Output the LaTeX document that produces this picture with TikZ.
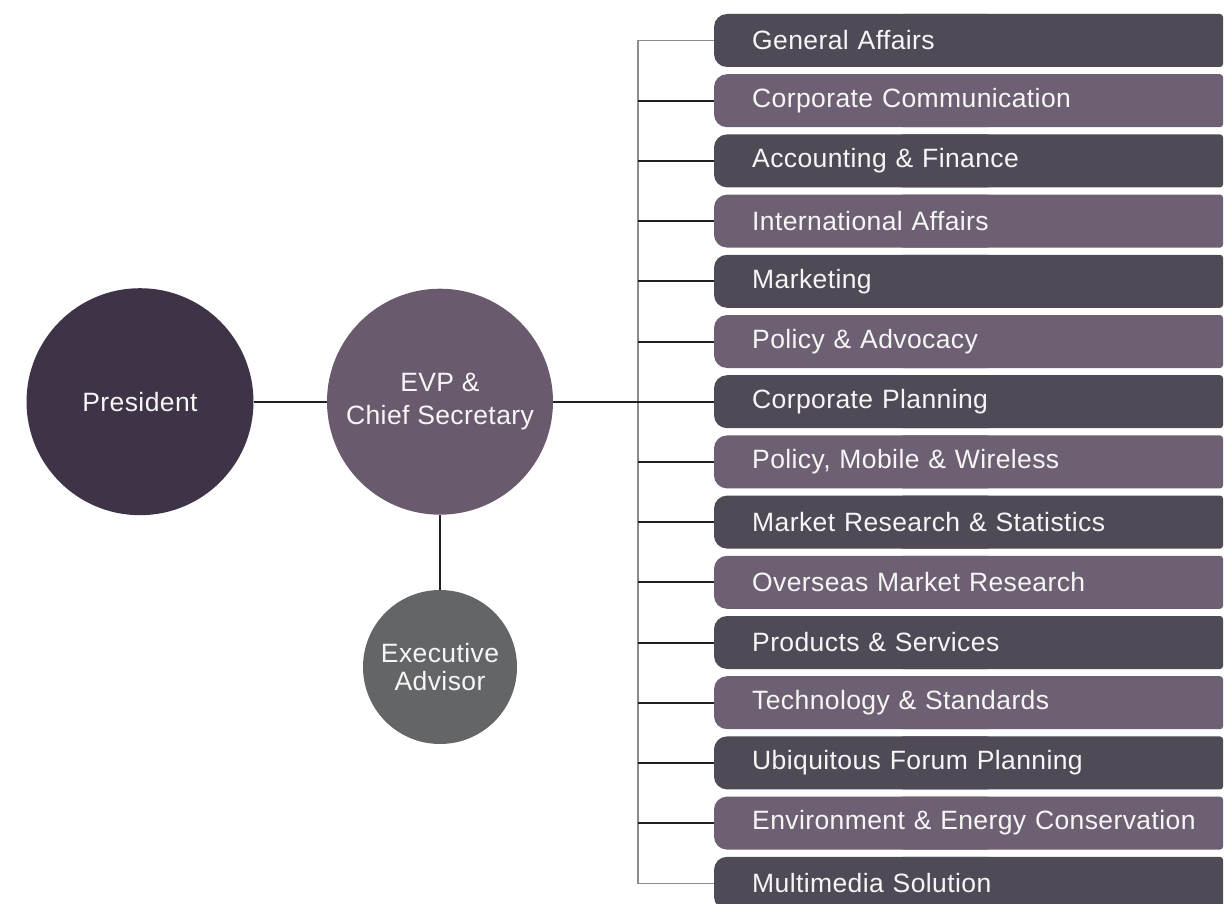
\documentclass[tikz,border=0pt]{standalone}
\usepackage{fontspec}
\setmainfont[LetterSpace=1.5]{Liberation Sans}
\definecolor{presc}{HTML}{3E3347}
\definecolor{evpc}{HTML}{6A5A6E}
\definecolor{advc}{HTML}{646567}
\definecolor{darkbox}{HTML}{504956}
\definecolor{lightbox}{HTML}{6E6073}
\definecolor{linec}{HTML}{231F20}
\definecolor{spinec}{HTML}{8C8C8C}
\definecolor{txtc}{HTML}{F6F6F6}
\tikzset{
  circ/.style={circle, inner sep=0pt, text=txtc, align=center, font=\fontsize{26.5}{33}\selectfont},
  depttext/.style={anchor=west, inner xsep=38pt, inner ysep=0pt, minimum height=53pt, text width=480pt, align=left, text=txtc, font=\fontsize{26.5}{30}\selectfont},
  branch/.style={draw=linec, line width=2pt},
  spine/.style={draw=spinec, line width=1.5pt},
}
\newcommand\dept[4]{%
  \fill[#3, rounded corners=13pt] (714,#2-26.5) rectangle (1000,#2+26.5);
  \fill[#3, rounded corners=3pt] (900,#2-26.5) rectangle (1223,#2+26.5);
  \node[depttext] (#1) at (714,#2) {#4};
}
\begin{document}
\begin{tikzpicture}[x=1pt,y=-1pt]
\useasboundingbox (0,0) rectangle (1224,904);
\fill[white] (0,0) rectangle (1224,904);
% spine
\coordinate (jt) at (638,40.5);
\coordinate (jb) at (638,883.3);
% departments
\dept{d1}{40.5}{darkbox}{General Affairs}
\dept{d2}{100.7}{lightbox}{Corporate Communication}
\dept{d3}{160.9}{darkbox}{Accounting \& Finance}
\dept{d4}{221.1}{lightbox}{International Affairs}
\dept{d5}{281.3}{darkbox}{Marketing}
\dept{d6}{341.5}{lightbox}{Policy \& Advocacy}
\dept{d7}{401.7}{darkbox}{Corporate Planning}
\dept{d8}{461.9}{lightbox}{Policy, Mobile \& Wireless}
\dept{d9}{522.1}{darkbox}{Market Research \& Statistics}
\dept{d10}{582.3}{lightbox}{Overseas Market Research}
\dept{d11}{642.5}{darkbox}{Products \& Services}
\dept{d12}{702.7}{lightbox}{Technology \& Standards}
\dept{d13}{762.9}{darkbox}{Ubiquitous Forum Planning}
\dept{d14}{823.1}{lightbox}{Environment \& Energy Conservation}
\dept{d15}{883.3}{darkbox}{Multimedia Solution}
% circles
\node[circ, fill=presc, minimum size=227pt] (pres) at (140,401.7) {President};
\node[circ, fill=evpc, minimum size=226pt] (evp) at (440,401.7) {EVP \&\\Chief Secretary};
\node[circ, fill=advc, minimum size=154pt, font=\fontsize{26.5}{28}\selectfont] (adv) at (440,667) {Executive\\Advisor};
% connectors
\draw[spine] (d1.west) -- (jt) -- (jb) -- (d15.west);
\foreach \i in {2,...,14} {
  \coordinate (j\i) at (jt |- d\i.west);
  \draw[branch] (j\i) -- (d\i.west);
}
\draw[branch] (pres) -- (evp);
\draw[branch] (evp.east) -- (d7.west);
\draw[branch] (evp) -- (adv);
\end{tikzpicture}
\end{document}
